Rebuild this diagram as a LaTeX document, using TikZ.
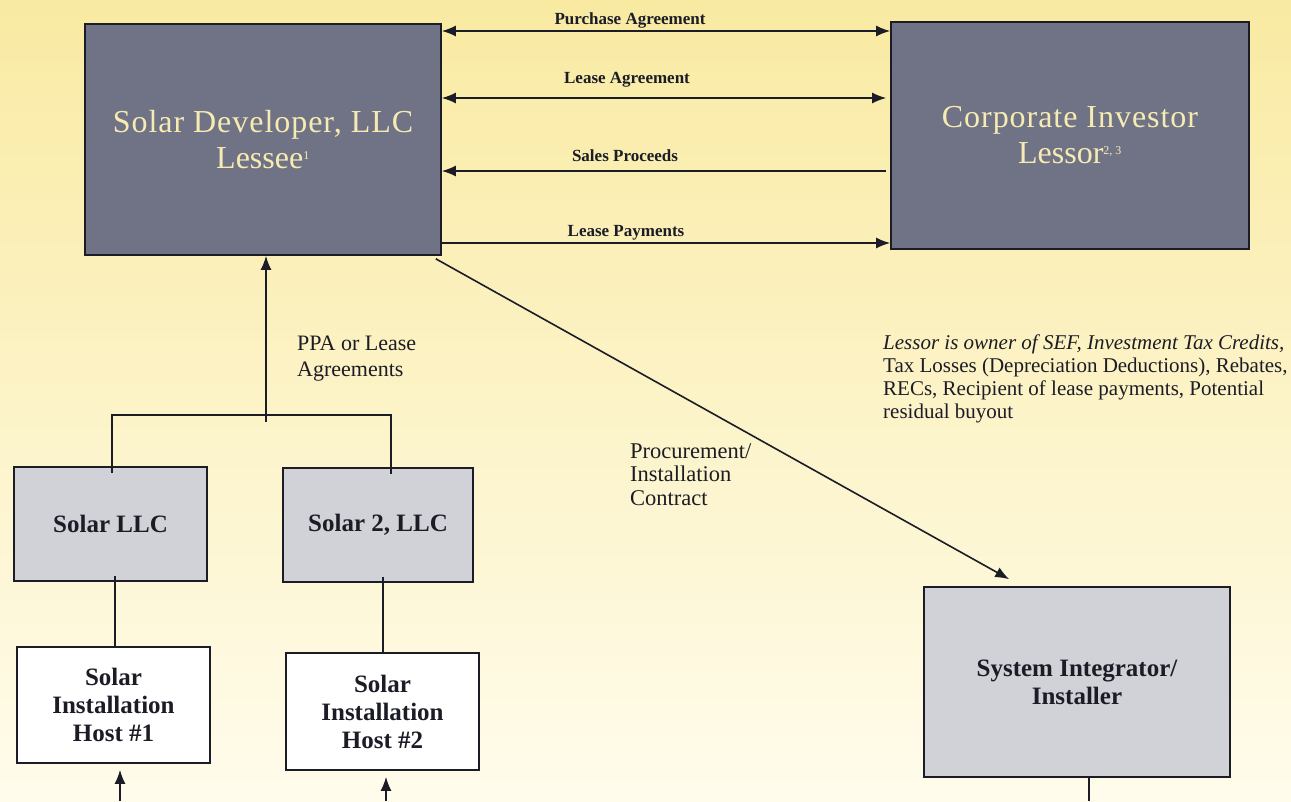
\documentclass[tikz,border=0pt]{standalone}
\usepackage{fontspec}
\setmainfont{Liberation Serif}
\usetikzlibrary{arrows.meta,calc}
\definecolor{bgtop}{RGB}{249,234,162}
\definecolor{bgmid}{RGB}{252,243,196}
\definecolor{bgbot}{RGB}{255,252,236}
\definecolor{darkbox}{RGB}{112,114,134}
\definecolor{lightbox}{RGB}{208,210,216}
\definecolor{paletext}{RGB}{246,236,178}
\definecolor{ink}{RGB}{28,28,38}
\tikzset{
  x=1pt, y=-1pt,
  darkent/.style={draw=ink, line width=1.6pt, fill=darkbox, text=paletext, align=center, inner sep=0pt, font=\fontsize{32}{36}\selectfont},
  lightent/.style={draw=ink, line width=1.6pt, fill=lightbox, text=ink, align=center, inner sep=0pt, font=\bfseries\fontsize{25}{28}\selectfont},
  hostent/.style={draw=ink, line width=1.6pt, fill=white, text=ink, align=center, inner sep=0pt, font=\bfseries\fontsize{25}{28}\selectfont},
  flow/.style={draw=ink, line width=1.6pt},
  tip/.style={-{Latex[length=14pt,width=11pt]}},
  dtip/.style={{Latex[length=14pt,width=11pt]}-{Latex[length=14pt,width=11pt]}},
  edgelbl/.style={text=ink, font=\bfseries\fontsize{17}{19}\selectfont, inner sep=0pt},
  plainlbl/.style={text=ink, align=left, inner sep=0pt, anchor=north west},
}
\begin{document}
\begin{tikzpicture}
\shade[top color=bgtop, middle color=bgmid, bottom color=bgbot] (0,0) rectangle (1291,801);
\useasboundingbox (0,0) rectangle (1291,801);

% entities
\node[darkent, minimum width=356pt, minimum height=231pt] (dev) at (263,139.5)
  {\addfontfeatures{LetterSpace=3}Solar Developer, LLC\\
   Lessee\textsuperscript{\fontsize{12}{12}\selectfont 1}};
\node[darkent, minimum width=358pt, minimum height=227pt] (inv) at (1070,135.5)
  {\addfontfeatures{LetterSpace=3}Corporate Investor\\
   Lessor\textsuperscript{\fontsize{12}{12}\selectfont 2, 3}};
\node[lightent, minimum width=193pt, minimum height=114pt] (llc1) at (110.5,524) {Solar LLC};
\node[lightent, minimum width=190pt, minimum height=114pt] (llc2) at (378,525) {Solar 2, LLC};
\node[hostent, minimum width=193pt, minimum height=116pt] (host1) at (113.5,705) {Solar\\Installation\\Host \#1};
\node[hostent, minimum width=193pt, minimum height=117pt] (host2) at (382.5,711.5) {Solar\\Installation\\Host \#2};
\node[lightent, minimum width=306pt, minimum height=190pt] (sys) at (1077,682) {System Integrator/\\Installer};

% horizontal flows between developer and investor
\draw[flow, dtip] (dev.east |- 0,31) -- (inv.west |- 0,31);
\draw[flow, dtip] (dev.east |- 0,98) -- ([xshift=-4pt]inv.west |- 0,98);
\draw[flow, tip] ([xshift=-4pt]inv.west |- 0,171) -- (dev.east |- 0,171);
\draw[flow, tip] (dev.east |- 0,243) -- (inv.west |- 0,243);
\node[edgelbl] (lpa) at (630,20) {Purchase Agreement};
\node[edgelbl] (lla) at (627,80) {Lease Agreement};
\node[edgelbl] (lsp) at (625,156) {Sales Proceeds};
\node[edgelbl] (llp) at (626,233) {Lease Payments};

% tree from LLCs up to developer
\coordinate (junc) at (266,415);
\coordinate (jl) at (llc1.north -| 112,0);
\coordinate (jr) at (llc2.north -| 391,0);
\draw[flow] ([yshift=-7pt]jl) -- (jl |- junc) -- (jr |- junc) -- ([yshift=-7pt]jr);
\draw[flow, tip] ([yshift=-7pt]junc) -- (dev.south -| junc);
\node[plainlbl, font=\fontsize{22}{26}\selectfont] (ppa) at (297,336) {PPA or Lease\\Agreements};

% LLCs to hosts
\draw[flow] ([yshift=6pt]llc1.south -| 115,0) -- (host1.north -| 115,0);
\draw[flow] ([yshift=6pt]llc2.south -| 383,0) -- (host2.north -| 383,0);

% incoming arrows from below
\coordinate (in1) at (120,801);
\coordinate (in2) at (386,801);
\draw[flow, tip] (in1) -- ([yshift=-6pt]host1.south -| in1);
\draw[flow, tip] (in2) -- ([yshift=-6pt]host2.south -| in2);

% system integrator outgoing line
\coordinate (out3) at (1089,801);
\draw[flow] (sys.south -| out3) -- (out3);

% procurement contract
\coordinate (dcorner) at ($(dev.south east)+(-6,3)$);
\coordinate (sysend) at ($(sys.north west)+(86,-7)$);
\draw[flow, tip] (dcorner) -- (sysend);
\node[plainlbl, font=\fontsize{22.5}{23.5}\selectfont] (proc) at (630,443) {Procurement/\\Installation\\Contract};

% note
\node[plainlbl, font=\fontsize{21}{22.7}\selectfont] (note) at (883,335)
 {\textit{Lessor is owner of SEF, Investment Tax Credits,}\\
  Tax Losses (Depreciation Deductions), Rebates,\\
  RECs, Recipient of lease payments, Potential\\
  residual buyout};
\end{tikzpicture}
\end{document}
